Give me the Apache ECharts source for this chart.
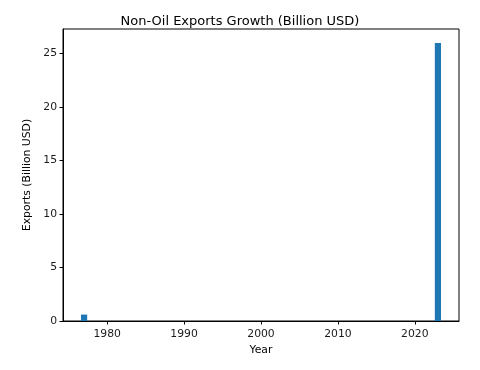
<!DOCTYPE html>
<html><head><meta charset="utf-8">
<script src="https://cdn.jsdelivr.net/npm/echarts@6/dist/echarts.min.js"></script>
<style>html,body{margin:0;padding:0;background:#fff}#c{width:480px;height:370px}</style>
</head><body><div id="c"></div>
<script>
const years = [1977, 2023];
const exportsBn = [0.6, 26.0];
const xTicks = [1980, 1990, 2000, 2010, 2020];
const yTicks = [0, 5, 10, 15, 20, 25];
const title = 'Non-Oil Exports Growth (Billion USD)';

const chart = echarts.init(document.getElementById('c'), null, {renderer: 'canvas'});
const font = 'DejaVu Sans';
const axisCommon = {
  axisLine: {show: true, onZero: false, lineStyle: {color: '#000', width: 1}},
  axisTick: {show: true, inside: false, length: 3.5, lineStyle: {color: '#000'}},
  splitLine: {show: false},
  nameLocation: 'middle',
  nameTextStyle: {fontFamily: font, fontSize: 10.8, color: '#000'},
  axisLabel: {fontFamily: font, fontSize: 10.8, color: '#1a1a1a'}
};
chart.setOption({
  animation: false,
  title: {text: title, left: 'center', top: 10, textStyle: {fontFamily: font, fontSize: 13, fontWeight: 'normal', color: '#000'}},
  grid: {left: 63, right: 21, top: 29, bottom: 49, show: true, borderColor: '#000', borderWidth: 1, backgroundColor: 'transparent'},
  xAxis: Object.assign({}, axisCommon, {
    type: 'value', min: 1974.26, max: 2025.74, name: 'Year', nameGap: 24,
    axisTick: Object.assign({}, axisCommon.axisTick, {customValues: xTicks}),
    axisLabel: Object.assign({}, axisCommon.axisLabel, {customValues: xTicks, margin: 8, formatter: v => String(v)})
  }),
  yAxis: Object.assign({}, axisCommon, {
    type: 'value', min: 0, max: 27.3, name: 'Exports (Billion USD)', nameGap: 20,
    axisTick: Object.assign({}, axisCommon.axisTick, {customValues: yTicks}),
    axisLabel: Object.assign({}, axisCommon.axisLabel, {customValues: yTicks, margin: 6})
  }),
  series: [{
    type: 'bar', barWidth: 6.2,
    itemStyle: {color: '#1f77b4'},
    data: years.map((y, i) => [y, exportsBn[i]])
  }]
});
</script></body></html>
